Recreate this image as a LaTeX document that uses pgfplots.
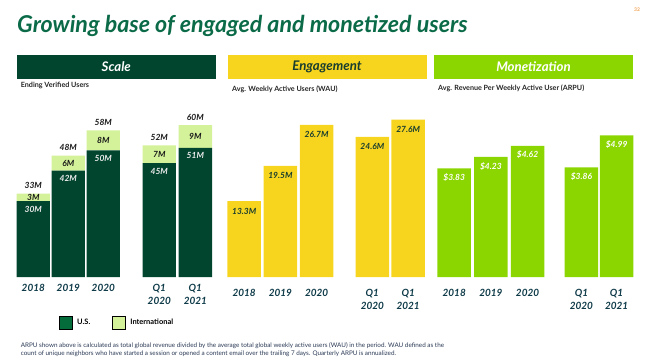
\documentclass[border=0pt]{standalone}
\usepackage{fontspec}
\setmainfont{Lato}
\usepackage{pgfplots}
\usepackage{pgfplotstable}
\pgfplotsset{compat=1.18}
\definecolor{dkgreen}{HTML}{01452F}
\definecolor{intl}{HTML}{D4F29A}
\definecolor{legus}{HTML}{046B3A}
\definecolor{yel}{HTML}{F7D51F}
\definecolor{lime}{HTML}{8BD500}
\definecolor{titlegreen}{HTML}{0B6B48}
\definecolor{ticktext}{HTML}{0F3B49}
\definecolor{engtext}{HTML}{193D2E}
\definecolor{pgorange}{HTML}{F0A050}
\definecolor{foot}{HTML}{2B3A55}

\pgfplotstableread{
x     us  intl  tot  uslab intllab totlab
0     30  3     33   30M   3M      33M
1     42  6     48   42M   6M      48M
2     50  8     58   50M   8M      58M
3.6   45  7     52   45M   7M      52M
4.63  51  9     60   51M   9M      60M
}\scaledata
\pgfplotstableread{
x     wau   lab
0     13.3  13.3M
1     19.5  19.5M
2     26.7  26.7M
3.54  24.6  24.6M
4.53  27.6  27.6M
}\engdata
\pgfplotstableread{
x     arpu  lab
0     3.83  \$3.83
1     4.23  \$4.23
2     4.62  \$4.62
3.47  3.86  \$3.86
4.43  4.99  \$4.99
}\mondata

\pgfplotsset{panel/.style={
  ymin=0, xmin=-0.5, clip=false,
  axis line style={draw=none}, tick style={draw=none}, ytick=\empty,
  xtick=data, xticklabels={2018,2019,2020,{Q1\\2020},{Q1\\2021}},
  xticklabel style={align=center, font=\fontsize{10}{13}\selectfont\bfseries\itshape, text=ticktext, inner sep=0pt, yshift=-7.5bp},
  nodes near coords, point meta=explicit symbolic,
}}
\newcommand{\lblfont}{\fontsize{8.5}{10}\selectfont\bfseries\itshape}

\begin{document}
\begin{tikzpicture}[x=1bp,y=1bp]
\useasboundingbox (0,0) rectangle (652,363);

% title and page number
\node[anchor=base west, inner sep=0, font=\fontsize{23.3}{28}\selectfont\bfseries\itshape, text=titlegreen] at (17,331) {Growing base of engaged and monetized users};
\node[text=pgorange, font=\fontsize{5}{6}\selectfont\bfseries, inner sep=0] at (637,353) {32};

% panel headers
\fill[dkgreen] (16.7,284) rectangle (216,308);
\node[text=white, font=\fontsize{13.3}{15}\selectfont\bfseries\itshape] at (116.3,296) {Scale};
\fill[yel] (227.5,284) rectangle (426.5,308);
\node[text=engtext, font=\fontsize{13.3}{15}\selectfont\bfseries\itshape] at (327,296) {Engagement};
\fill[lime] (434,284) rectangle (633,308);
\node[text=white, font=\fontsize{13.3}{15}\selectfont\bfseries\itshape] at (533.5,296) {Monetization};

\node[anchor=west, inner sep=0, font=\fontsize{7.2}{8}\selectfont\bfseries, text=black!85] at (20.7,277.3) {Ending Verified Users};
\node[anchor=west, inner sep=0, font=\fontsize{7.2}{8}\selectfont\bfseries, text=black!85] at (232,274) {Avg. Weekly Active Users (WAU)};
\node[anchor=west, inner sep=0, font=\fontsize{7.2}{8}\selectfont\bfseries, text=black!85] at (438,274.3) {Avg. Revenue Per Weekly Active User (ARPU)};

% Scale
\begin{axis}[panel, ybar stacked, x=35bp, y=2.53bp, xmax=5.13, ymax=70, bar width=33.3bp,
  at={(15.8bp,86bp)}, anchor=south west,
  legend columns=2,
  legend style={at={(0.219,-0.258)}, anchor=west, draw=none, fill=none, inner sep=0pt,
    font=\fontsize{7.5}{9}\selectfont\bfseries,
    /tikz/every odd column/.append style={column sep=3bp},
    /tikz/every even column/.append style={column sep=20bp}},
  legend image code/.code={\fill[#1] (0bp,-6.35bp) rectangle (12.7bp,6.35bp);},
]
\addplot[fill=dkgreen, draw=none, forget plot,
  nodes near coords style={anchor=center, yshift=-8bp, text=white!92!black, font=\lblfont, inner sep=0pt}]
  table[x=x, y=us, meta=uslab]{\scaledata};
\addplot[fill=intl, draw=none, forget plot,
  visualization depends on={\thisrow{intl} \as \iv},
  nodes near coords style={anchor=center, yshift=-\iv*1.265bp, text=black!90, font=\lblfont, inner sep=0pt}]
  table[x=x, y=intl, meta=intllab]{\scaledata};
\addplot[fill=none, draw=none, forget plot, stack plots=false,
  nodes near coords style={anchor=center, yshift=8bp, text=black!90, font=\lblfont, inner sep=0pt}]
  table[x=x, y=tot, meta=totlab]{\scaledata};
\addlegendimage{fill=legus}
\addlegendentry{U.S.}
\addlegendimage{fill=intl}
\addlegendentry{International}
\end{axis}

% Engagement
\begin{axis}[panel, ybar, x=36.2bp, y=5.70bp, xmax=5.03, ymax=30, bar width=33.5bp,
  at={(226.1bp,86bp)}, anchor=south west]
\addplot[fill=yel, draw=none,
  nodes near coords style={anchor=center, yshift=-10bp, text=engtext, font=\lblfont, inner sep=0pt}]
  table[x=x, y=wau, meta=lab]{\engdata};
\end{axis}

% Monetization
\begin{axis}[panel, ybar, x=36.65bp, y=28.37bp, xmax=4.93, ymax=6, bar width=33.5bp,
  at={(435.9bp,86bp)}, anchor=south west]
\addplot[fill=lime, draw=none,
  nodes near coords style={anchor=center, yshift=-9bp, text=white, font=\lblfont, inner sep=0pt}]
  table[x=x, y=arpu, meta=lab]{\mondata};
\end{axis}

% footnote
\node[anchor=north west, align=left, inner sep=0, font=\fontsize{6.35}{8.3}\selectfont, text=foot] at (20.7,20.8)
  {ARPU shown above is calculated as total global revenue divided by the average total global weekly active users (WAU) in the period. WAU defined as the\\
   count of unique neighbors who have started a session or opened a content email over the trailing 7 days. Quarterly ARPU is annualized.};
\end{tikzpicture}
\end{document}
